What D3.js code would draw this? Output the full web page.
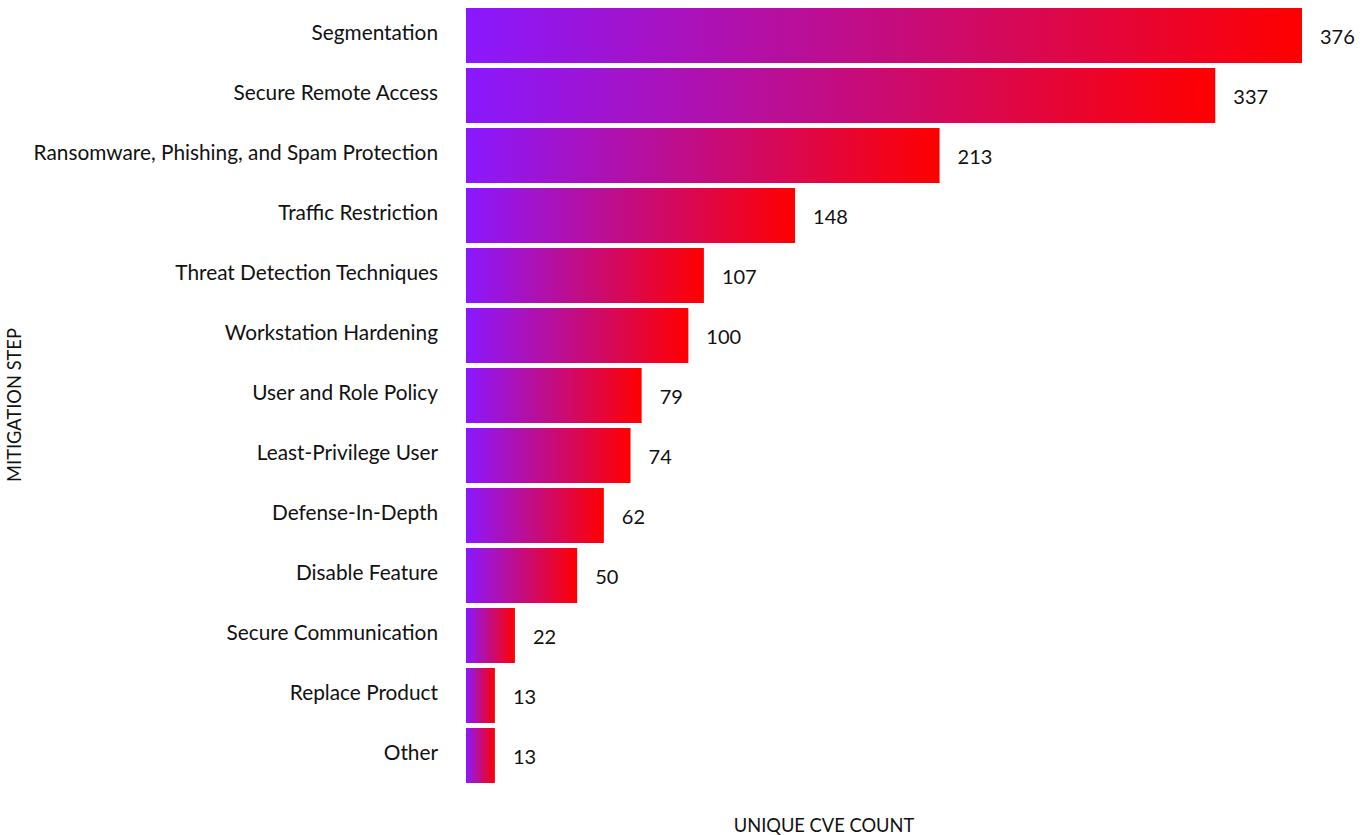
<!DOCTYPE html>
<html><head><meta charset="utf-8">
<script src="https://cdn.jsdelivr.net/npm/d3@7"></script>
<style>body{margin:0;background:#fff}svg{display:block}text{font-family:Lato, "Open Sans", sans-serif;fill:#111}</style>
</head><body><svg id="c" width="1365" height="835"></svg>
<script>
const categories = ["Segmentation","Secure Remote Access","Ransomware, Phishing, and Spam Protection","Traffic Restriction","Threat Detection Techniques","Workstation Hardening","User and Role Policy","Least-Privilege User","Defense-In-Depth","Disable Feature","Secure Communication","Replace Product","Other"];
const values = [376,337,213,148,107,100,79,74,62,50,22,13,13];
const xTitle = "UNIQUE CVE COUNT";
const yTitle = "MITIGATION STEP";

const svg = d3.select("#c");
const x = d3.scaleLinear().domain([0,376]).range([466,1302]);
const y = d3.scaleBand().domain(categories).range([5.5,785.5]).paddingInner(5/60).paddingOuter(2.5/60);
const defs = svg.append("defs");
const g = defs.append("linearGradient").attr("id","grad").attr("x1","0").attr("x2","1").attr("y1","0").attr("y2","0");
g.append("stop").attr("offset","0").attr("stop-color","#8a18ff");
g.append("stop").attr("offset","1").attr("stop-color","#ff0000");

svg.selectAll("rect.bar").data(values).join("rect").attr("class","bar")
  .attr("x",x(0)).attr("y",(d,i)=>y(categories[i])).attr("width",d=>x(d)-x(0)).attr("height",y.bandwidth())
  .attr("fill","url(#grad)");

svg.selectAll("text.val").data(values).join("text").attr("class","val")
  .attr("x",d=>x(d)+18).attr("y",(d,i)=>y(categories[i])+y.bandwidth()/2+8.5)
  .attr("font-size",20).text(d=>d);

const yAxis = d3.axisLeft(y).tickSize(0).tickPadding(28);
const ya = svg.append("g").attr("transform",`translate(${x(0)},0)`).call(yAxis);
ya.select(".domain").remove();
ya.selectAll("text").attr("font-size",20.8).attr("fill","#111").style("font-family","Lato, sans-serif").attr("dy","0.22em");

svg.append("text").attr("x",824).attr("y",832).attr("text-anchor","middle").attr("font-size",18.3).text(xTitle);
svg.append("text").attr("transform","translate(21,405) rotate(-90)").attr("text-anchor","middle").attr("font-size",18.3).text(yTitle);
</script></body></html>
